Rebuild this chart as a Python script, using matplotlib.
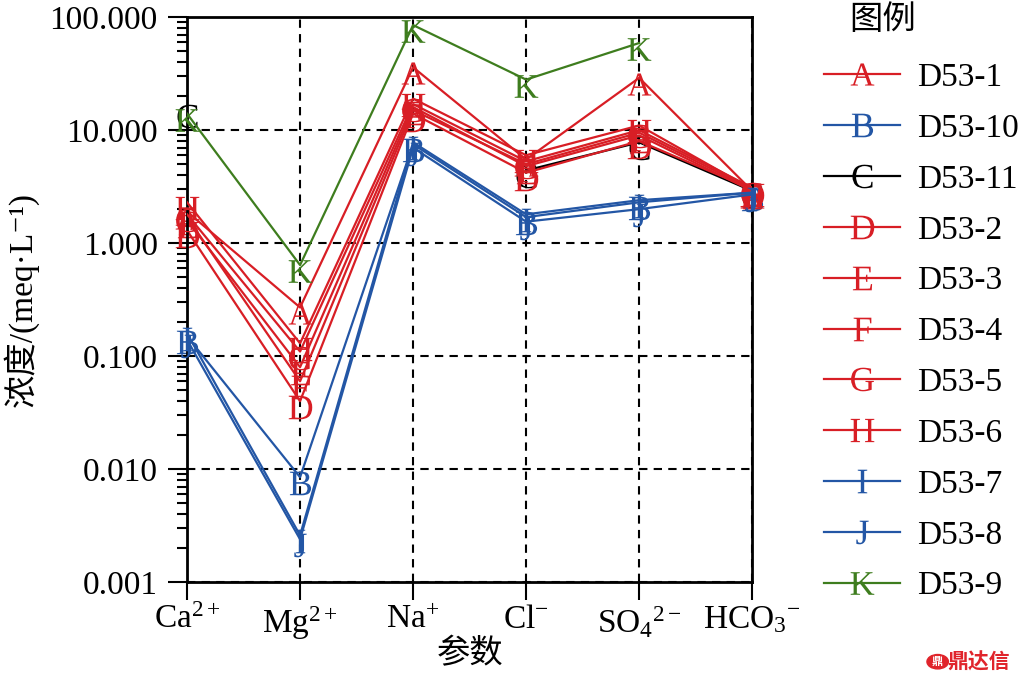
import numpy as np
import matplotlib
matplotlib.use("Agg")
import matplotlib.pyplot as plt
from matplotlib.lines import Line2D
from matplotlib.patches import Circle
from matplotlib.transforms import ScaledTranslation
from matplotlib.ticker import FormatStrFormatter, LogLocator, NullFormatter

plt.rcParams['font.family'] = ['Liberation Serif', 'Noto Sans CJK SC', 'DejaVu Sans']
plt.rcParams['mathtext.fontset'] = 'custom'
plt.rcParams['mathtext.rm'] = 'Liberation Serif'
plt.rcParams['mathtext.it'] = 'Liberation Serif:italic'

# --- datos (meq/L) ---
params = ['Ca$^{2+}$', 'Mg$^{2+}$', 'Na$^{+}$', 'Cl$^{-}$', 'SO$_4$$^{2-}$', 'HCO$_3$$^{-}$']
samples = ['D53-1', 'D53-10', 'D53-11', 'D53-2', 'D53-3', 'D53-4',
           'D53-5', 'D53-6', 'D53-7', 'D53-8', 'D53-9']
letters = ['A', 'B', 'C', 'D', 'E', 'F', 'G', 'H', 'I', 'J', 'K']
nan = np.nan
d53_1 = [1.9, 0.27, 36, 5.5, 29, 2.9]
d53_10 = [0.15, 0.0085, 7.5, 1.7, 2.3, 2.8]
d53_11 = [15, nan, nan, 4.4, 7.8, 2.9]
d53_2 = [1.3, 0.04, 14, 4.2, 8.0, 3.0]
d53_3 = [1.6, 0.08, 16, 4.8, 9.0, 2.9]
d53_4 = [1.7, 0.06, 15, 5.0, 9.5, 3.0]
d53_5 = [1.8, 0.11, 17, 5.3, 10, 3.1]
d53_6 = [2.3, 0.13, 19, 6.0, 11, 3.0]
d53_7 = [0.16, 0.0026, 7.8, 1.8, 2.4, 2.8]
d53_8 = [0.14, 0.0024, 7.0, 1.55, 2.0, 2.7]
d53_9 = [14, 0.64, 85, 28, 59, nan]
series = [d53_1, d53_10, d53_11, d53_2, d53_3, d53_4, d53_5, d53_6, d53_7, d53_8, d53_9]

RED, BLUE, BLACK, GREEN = '#d81e25', '#2356a5', '#000000', '#3e7d1e'
colors = [RED, BLUE, BLACK, RED, RED, RED, RED, RED, BLUE, BLUE, GREEN]
FS = 24

fig = plt.figure(figsize=(10.22, 6.85), dpi=100)
ax = fig.add_axes([0.183, 0.150, 0.553, 0.825])

x = np.arange(len(params))
# las letras van un poco por debajo del vertice, como en el original
shift = ax.transData + ScaledTranslation(0, -6 / 100, fig.dpi_scale_trans)

handles = []
for i, (vals, c, let) in enumerate(zip(series, colors, letters)):
    z = 1 if let == 'C' else 2 + i * 0.1
    if let == 'K':
        z = 4
    ax.plot(x, vals, color=c, lw=1.6, zorder=z)
    ax.plot(x, vals, linestyle='none', marker=f'$\\mathrm{{{let}}}$', markersize=17,
            markeredgewidth=0, color=c, transform=shift, zorder=z, clip_on=False)
    handles.append(Line2D([], [], color=c, lw=1.6, marker=f'$\\mathrm{{{let}}}$',
                          markersize=17, markeredgewidth=0))

ax.set_yscale('log')
ax.set_ylim(0.001, 100)
ax.set_xlim(0, 5)
ax.set_xticks(x)
ax.set_xticklabels(params, fontsize=FS)
ax.yaxis.set_major_locator(LogLocator(base=10, numticks=10))
ax.yaxis.set_major_formatter(FormatStrFormatter('%.3f'))
ax.yaxis.set_minor_locator(LogLocator(base=10, subs=np.arange(2, 10), numticks=20))
ax.yaxis.set_minor_formatter(NullFormatter())
ax.tick_params(axis='y', which='major', length=14, width=1.5, labelsize=FS, pad=7)
ax.tick_params(axis='y', which='minor', length=7, width=1.5)
ax.tick_params(axis='x', which='major', length=13, width=1.5, pad=3)
for s in ax.spines.values():
    s.set_linewidth(2)

ax.grid(True, which='major', color='black', linestyle=(0, (4, 3)), lw=1.5)

ax.set_ylabel('浓度/(meq·L⁻¹)', fontsize=FS, labelpad=8)
ax.set_xlabel('参数', fontsize=FS, labelpad=-2)

fig.text(0.864, 0.970, '图例', fontsize=FS, ha='center', va='center')
fig.legend(handles, samples, loc='upper left', bbox_to_anchor=(0.793, 0.928),
           frameon=False, fontsize=FS, handlelength=2.3, handletextpad=0.5,
           labelspacing=0.61, borderaxespad=0)

# marca de agua abajo a la derecha
fig.patches.append(Circle((0.9175, 0.034), 0.0105, transform=fig.transFigure,
                          color='#e0242b', figure=fig))
fig.text(0.9175, 0.034, '鼎', fontsize=8, color='white', ha='center', va='center',
         family='Noto Sans CJK SC', fontweight='bold')
fig.text(0.988, 0.033, '鼎达信', fontsize=15, color='#e0242b', ha='right', va='center',
         family='Noto Sans CJK SC', fontweight='bold')

fig.savefig('out.png', dpi=100)
